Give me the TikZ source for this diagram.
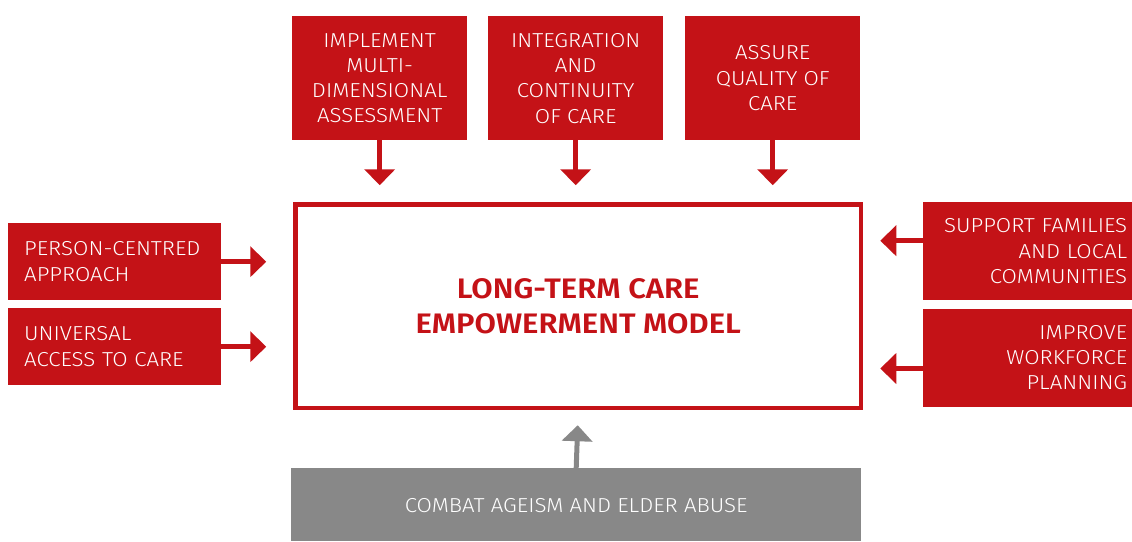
\documentclass[tikz,border=0pt]{standalone}
\usepackage{fontspec}
\setmainfont{Fira Sans}[UprightFont=* Light, BoldFont=* SemiBold, FakeStretch=1.1]
\usetikzlibrary{arrows.meta}
\definecolor{boxred}{RGB}{196,18,23}
\definecolor{boxgray}{RGB}{136,136,136}
\tikzset{
  redbox/.style={fill=boxred, draw=none, inner sep=0pt, anchor=north west, text=white,
    font=\fontsize{20.2}{25.3}\selectfont},
  graybox/.style={redbox, fill=boxgray},
  fatarrow/.style={line width=5pt, draw=boxred, -{Triangle[width=30pt,length=16pt]}},
  grayarrow/.style={fatarrow, draw=boxgray},
}
\begin{document}
\begin{tikzpicture}[x=1pt,y=-1pt]
\useasboundingbox (0,0) rectangle (1132,541);
% main box
\node[draw=boxred, line width=4.5pt, minimum width=565.5pt, minimum height=203.5pt, inner sep=0pt, anchor=north west,
  text=boxred, font=\fontsize{28.2}{35}\selectfont\bfseries, align=center]
  (main) at (293.25,202.25) {LONG-TERM CARE\\EMPOWERMENT MODEL};
% top boxes
\node[redbox, minimum width=175pt, minimum height=124pt, align=center] (t1) at (292,16)
  {IMPLEMENT\\MULTI-\\DIMENSIONAL\\ASSESSMENT};
\node[redbox, minimum width=175pt, minimum height=124pt, align=center] (t2) at (488,16)
  {INTEGRATION\\AND\\CONTINUITY\\OF CARE};
\node[redbox, minimum width=175pt, minimum height=124pt, align=center] (t3) at (685,16)
  {ASSURE\\QUALITY OF\\CARE};
% left boxes
\node[redbox, minimum width=213pt, minimum height=77pt, text width=181pt, align=left] (l1) at (8,223)
  {PERSON-CENTRED\\APPROACH};
\node[redbox, minimum width=213pt, minimum height=77pt, text width=181pt, align=left] (l2) at (8,308)
  {UNIVERSAL\\ACCESS TO CARE};
% right boxes
\node[redbox, minimum width=209pt, minimum height=98pt, text width=199pt, align=right] (r1) at (923,202)
  {SUPPORT FAMILIES\\AND LOCAL\\COMMUNITIES};
\node[redbox, minimum width=209pt, minimum height=98pt, text width=199pt, align=right] (r2) at (923,308.5)
  {IMPROVE\\WORKFORCE\\PLANNING};
% bottom box
\node[graybox, minimum width=570pt, minimum height=73pt, align=center, text depth=0pt] (b) at (291,468)
  {\raisebox{-2.5pt}{COMBAT AGEISM AND ELDER ABUSE}};
% connectors
\draw[fatarrow, shorten >=17pt] (t1.south) -- (t1.south |- main.north);
\draw[fatarrow, shorten >=17pt] (t2.south) -- (t2.south |- main.north);
\draw[fatarrow, shorten >=17pt] (t3.south) -- (t3.south |- main.north);
\draw[fatarrow, shorten >=27pt] (l1.east) -- (l1.east -| main.west);
\draw[fatarrow, shorten >=27pt] (l2.east) -- (l2.east -| main.west);
\coordinate (r1a) at ([yshift=10.5pt]r1.west);
\coordinate (r2a) at ([yshift=-10.8pt]r2.west);
\draw[fatarrow, shorten >=17pt] (r1a) -- (r1a -| main.east);
\draw[fatarrow, shorten >=17pt] (r2a) -- (r2a -| main.east);
\draw[grayarrow, shorten >=15pt] (b.north) -- (main.south);
\end{tikzpicture}
\end{document}
